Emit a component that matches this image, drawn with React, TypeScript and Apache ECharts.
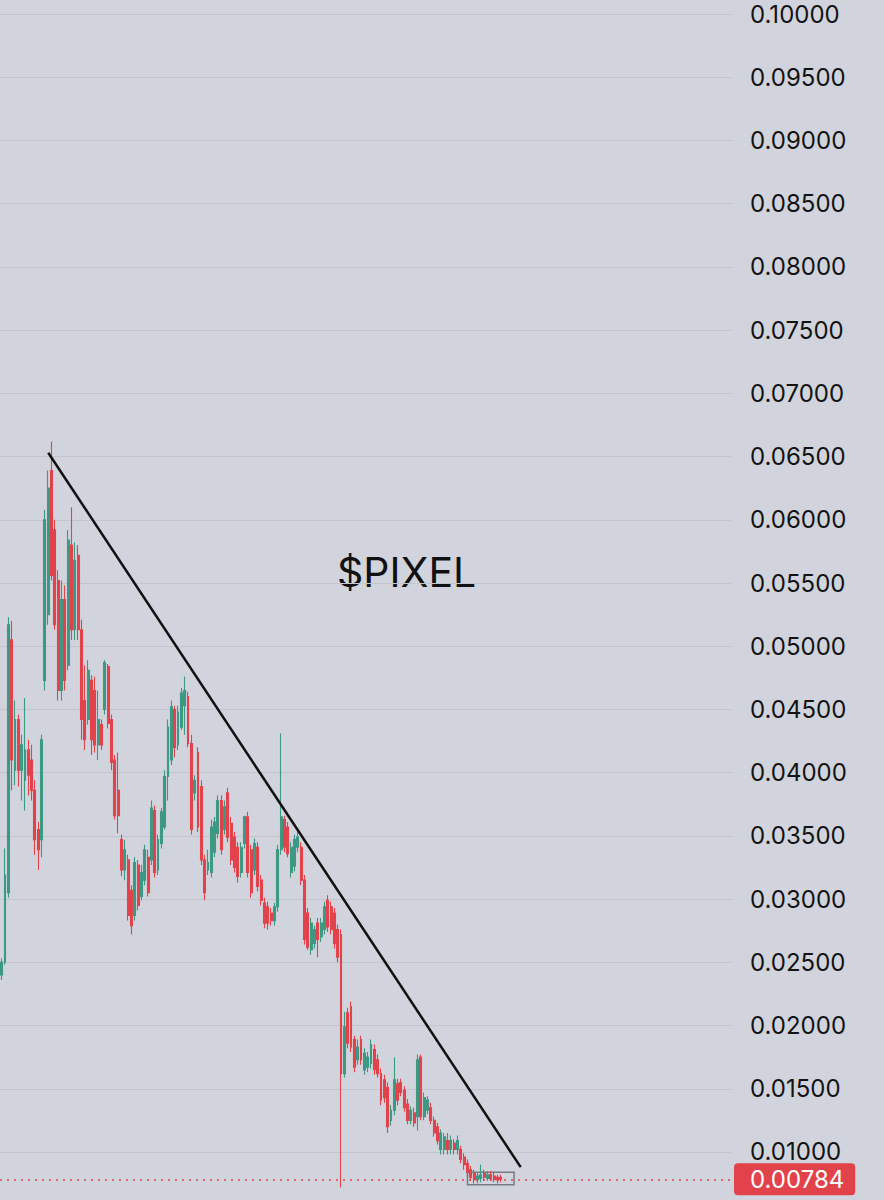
import React, { useEffect, useRef } from "react";
import * as echarts from "echarts";

// number of slots on the time axis (candles + empty space on the right)
const slotCount = 220;

// [open, close, low, high]
const candles: number[][] = [
  [0.0240, 0.0250, 0.0236, 0.0253], [0.0250, 0.0319, 0.0248, 0.0340], [0.0305, 0.0517, 0.0301, 0.0523],
  [0.0505, 0.0410, 0.0386, 0.0520], [0.0402, 0.0442, 0.0390, 0.0457], [0.0442, 0.0402, 0.0389, 0.0446],
  [0.0402, 0.0422, 0.0378, 0.0430], [0.0394, 0.0418, 0.0370, 0.0459], [0.0418, 0.0398, 0.0382, 0.0426],
  [0.0410, 0.0386, 0.0378, 0.0422], [0.0386, 0.0347, 0.0335, 0.0394], [0.0355, 0.0339, 0.0323, 0.0361],
  [0.0347, 0.0426, 0.0333, 0.0430], [0.0473, 0.0600, 0.0465, 0.0608], [0.0525, 0.0625, 0.0517, 0.0639],
  [0.0639, 0.0556, 0.0552, 0.0662], [0.0592, 0.0517, 0.0513, 0.0600], [0.0552, 0.0465, 0.0457, 0.0560],
  [0.0465, 0.0537, 0.0457, 0.0552], [0.0537, 0.0473, 0.0465, 0.0548], [0.0485, 0.0584, 0.0481, 0.0592],
  [0.0580, 0.0513, 0.0505, 0.0610], [0.0513, 0.0568, 0.0505, 0.0582], [0.0572, 0.0513, 0.0505, 0.0580],
  [0.0513, 0.0442, 0.0426, 0.0521], [0.0457, 0.0426, 0.0418, 0.0485], [0.0442, 0.0481, 0.0438, 0.0489],
  [0.0473, 0.0426, 0.0414, 0.0477], [0.0465, 0.0422, 0.0416, 0.0476], [0.0422, 0.0442, 0.0410, 0.0465],
  [0.0438, 0.0422, 0.0418, 0.0442], [0.0450, 0.0487, 0.0446, 0.0489], [0.0484, 0.0439, 0.0435, 0.0486],
  [0.0442, 0.0408, 0.0402, 0.0446], [0.0410, 0.0366, 0.0363, 0.0414], [0.0386, 0.0366, 0.0352, 0.0416],
  [0.0347, 0.0323, 0.0318, 0.0351], [0.0323, 0.0339, 0.0315, 0.0347], [0.0331, 0.0287, 0.0283, 0.0335],
  [0.0307, 0.0279, 0.0272, 0.0311], [0.0287, 0.0329, 0.0283, 0.0333], [0.0327, 0.0295, 0.0291, 0.0331],
  [0.0302, 0.0321, 0.0299, 0.0327], [0.0315, 0.0339, 0.0311, 0.0343], [0.0333, 0.0305, 0.0302, 0.0339],
  [0.0331, 0.0372, 0.0327, 0.0378], [0.0370, 0.0321, 0.0317, 0.0374], [0.0323, 0.0347, 0.0319, 0.0351],
  [0.0344, 0.0369, 0.0340, 0.0372], [0.0357, 0.0397, 0.0355, 0.0402], [0.0397, 0.0436, 0.0378, 0.0442],
  [0.0410, 0.0452, 0.0406, 0.0457], [0.0450, 0.0420, 0.0412, 0.0453], [0.0422, 0.0448, 0.0418, 0.0453],
  [0.0436, 0.0463, 0.0434, 0.0467], [0.0453, 0.0465, 0.0430, 0.0476], [0.0460, 0.0423, 0.0420, 0.0464],
  [0.0423, 0.0355, 0.0351, 0.0430], [0.0384, 0.0394, 0.0378, 0.0398], [0.0416, 0.0357, 0.0353, 0.0420],
  [0.0389, 0.0331, 0.0327, 0.0394], [0.0331, 0.0305, 0.0299, 0.0335], [0.0323, 0.0329, 0.0319, 0.0339],
  [0.0321, 0.0357, 0.0317, 0.0363], [0.0337, 0.0361, 0.0333, 0.0365], [0.0352, 0.0378, 0.0348, 0.0382],
  [0.0378, 0.0339, 0.0335, 0.0382], [0.0355, 0.0373, 0.0351, 0.0378], [0.0384, 0.0349, 0.0345, 0.0388],
  [0.0360, 0.0331, 0.0327, 0.0365], [0.0349, 0.0325, 0.0321, 0.0353], [0.0341, 0.0318, 0.0313, 0.0345],
  [0.0321, 0.0341, 0.0317, 0.0345], [0.0344, 0.0365, 0.0340, 0.0366], [0.0365, 0.0321, 0.0317, 0.0369],
  [0.0339, 0.0305, 0.0301, 0.0343], [0.0323, 0.0344, 0.0319, 0.0348], [0.0341, 0.0310, 0.0306, 0.0345],
  [0.0315, 0.0299, 0.0295, 0.0319], [0.0297, 0.0281, 0.0277, 0.0301], [0.0294, 0.0281, 0.0276, 0.0298],
  [0.0289, 0.0283, 0.0279, 0.0293], [0.0283, 0.0294, 0.0279, 0.0297], [0.0294, 0.0339, 0.0290, 0.0343],
  [0.0339, 0.0365, 0.0335, 0.0431], [0.0363, 0.0341, 0.0337, 0.0366], [0.0357, 0.0336, 0.0333, 0.0361],
  [0.0321, 0.0341, 0.0317, 0.0345], [0.0326, 0.0347, 0.0322, 0.0351], [0.0341, 0.0349, 0.0337, 0.0353],
  [0.0341, 0.0315, 0.0311, 0.0345], [0.0315, 0.0268, 0.0264, 0.0319], [0.0289, 0.0262, 0.0260, 0.0293],
  [0.0260, 0.0281, 0.0256, 0.0285], [0.0265, 0.0276, 0.0261, 0.0279], [0.0281, 0.0268, 0.0254, 0.0285],
  [0.0270, 0.0281, 0.0266, 0.0285], [0.0276, 0.0294, 0.0272, 0.0298], [0.0299, 0.0278, 0.0274, 0.0303],
  [0.0294, 0.0276, 0.0272, 0.0298], [0.0289, 0.0265, 0.0261, 0.0293], [0.0276, 0.0254, 0.0250, 0.0280],
  [0.0272, 0.0162, 0.0072, 0.0276], [0.0162, 0.0199, 0.0159, 0.0211], [0.0210, 0.0186, 0.0182, 0.0214],
  [0.0215, 0.0183, 0.0179, 0.0219], [0.0189, 0.0167, 0.0163, 0.0192], [0.0173, 0.0183, 0.0169, 0.0189],
  [0.0189, 0.0173, 0.0169, 0.0192], [0.0165, 0.0178, 0.0161, 0.0182], [0.0167, 0.0175, 0.0163, 0.0179],
  [0.0170, 0.0185, 0.0166, 0.0189], [0.0181, 0.0165, 0.0161, 0.0185], [0.0173, 0.0162, 0.0159, 0.0177],
  [0.0162, 0.0141, 0.0137, 0.0166], [0.0157, 0.0143, 0.0139, 0.0161], [0.0151, 0.0120, 0.0115, 0.0155],
  [0.0125, 0.0133, 0.0121, 0.0137], [0.0133, 0.0157, 0.0129, 0.0175], [0.0154, 0.0141, 0.0137, 0.0158],
  [0.0155, 0.0147, 0.0144, 0.0158], [0.0149, 0.0135, 0.0132, 0.0152], [0.0138, 0.0125, 0.0122, 0.0142],
  [0.0125, 0.0133, 0.0122, 0.0136], [0.0131, 0.0123, 0.0120, 0.0135], [0.0128, 0.0173, 0.0117, 0.0177],
  [0.0175, 0.0128, 0.0125, 0.0177], [0.0128, 0.0143, 0.0125, 0.0147], [0.0133, 0.0141, 0.0130, 0.0144],
  [0.0135, 0.0125, 0.0122, 0.0139], [0.0125, 0.0115, 0.0112, 0.0128], [0.0120, 0.0109, 0.0106, 0.0123],
  [0.0102, 0.0115, 0.0098, 0.0118], [0.0102, 0.0112, 0.0098, 0.0115], [0.0109, 0.0102, 0.0098, 0.0115],
  [0.0102, 0.0109, 0.0098, 0.0113], [0.0107, 0.0102, 0.0098, 0.0110], [0.0102, 0.0109, 0.0098, 0.0113],
  [0.0102, 0.0094, 0.0091, 0.0105], [0.0096, 0.0090, 0.0086, 0.0099], [0.0091, 0.0084, 0.0081, 0.0094],
  [0.0086, 0.0080, 0.0077, 0.0089], [0.0083, 0.0078, 0.0075, 0.0086], [0.0078, 0.0081, 0.0075, 0.0084],
  [0.0079, 0.0082, 0.0076, 0.0090], [0.0083, 0.0080, 0.0077, 0.0086], [0.0079, 0.0082, 0.0077, 0.0085],
  [0.0082, 0.0079, 0.0077, 0.0085], [0.0081, 0.0078, 0.0076, 0.0084], [0.0080, 0.0078, 0.0075, 0.0082],
  [0.0080, 0.00784, 0.0076, 0.0082],
];

const yMin = 0.005;
const yMax = 0.105;
const yStep = 0.005;
const labelMin = 0.01;
const labelMax = 0.1;
const lastPrice = 0.00784;
const lastPriceLabel = "0.00784";
const trendStart = [14, 0.0653];
const trendEnd = [156, 0.0088];
const boxStart = [140, 0.0084];
const boxEnd = [154, 0.0074];
const titleText = "$PIXEL";

const UP = "#3d9884";
const DOWN = "#e2434b";

export default function App() {
  const ref = useRef<HTMLDivElement>(null);
  useEffect(() => {
    if (!ref.current) return;
    const chart = echarts.init(ref.current, undefined, { renderer: "svg" });
    const slots = Array.from({ length: slotCount }, (_, i) => String(i));
    const data = slots.map((_, i) => (i < candles.length ? candles[i] : "-"));
    chart.setOption({
      animation: false,
      backgroundColor: "#d1d4dc",
      grid: {
        left: 0,
        right: 152,
        top: -49.2,
        bottom: -15.2,
        containLabel: false,
        outerBoundsMode: "none",
      },
      xAxis: {
        type: "category",
        data: slots,
        boundaryGap: true,
        axisLine: { show: false },
        axisTick: { show: false },
        axisLabel: { show: false },
        splitLine: { show: false },
      },
      yAxis: {
        type: "value",
        position: "right",
        min: yMin,
        max: yMax,
        interval: yStep,
        axisLine: { show: false },
        axisTick: { show: false },
        axisLabel: {
          margin: 18,
          color: "#131313",
          fontSize: 24,
          fontFamily: "Inter",
          formatter: (v: number) =>
            v < labelMin - 1e-9 || v > labelMax + 1e-9 ? "" : v.toFixed(5),
        },
        splitLine: { lineStyle: { color: "#c3c6cd", width: 1.2 } },
      },
      graphic: [
        {
          type: "text",
          x: 337,
          y: 572,
          style: {
            text: titleText,
            fill: "#111111",
            font: "41px Inter",
            verticalAlign: "middle",
          },
        },
      ],
      series: [
        {
          type: "candlestick",
          data,
          barWidth: 2.4,
          itemStyle: {
            color: UP,
            color0: DOWN,
            borderColor: UP,
            borderColor0: DOWN,
            borderWidth: 1.1,
          },
          markLine: {
            silent: true,
            precision: 5,
            symbol: ["none", "none"],
            data: [
              [
                {
                  coord: trendStart,
                  lineStyle: { color: "#111111", width: 2.5, type: "solid" },
                  label: { show: false },
                },
                { coord: trendEnd },
              ],
              {
                yAxis: lastPrice,
                lineStyle: { color: DOWN, width: 1.5, type: [2, 5] },
                label: {
                  show: true,
                  position: "end",
                  distance: 2,
                  formatter: lastPriceLabel,
                  color: "#ffffff",
                  fontSize: 24,
                  fontFamily: "Inter",
                  backgroundColor: DOWN,
                  borderRadius: 4,
                  padding: [4, 11, 4, 16],
                },
              },
            ],
          },
          markArea: {
            silent: true,
            itemStyle: {
              color: "rgba(0,0,0,0)",
              borderColor: "#767a84",
              borderWidth: 1.5,
            },
            data: [[{ coord: boxStart }, { coord: boxEnd }]],
          },
        },
      ],
    });
    return () => chart.dispose();
  }, []);
  return (
    <div
      ref={ref}
      style={{ position: "absolute", left: 0, top: 0, width: 884, height: 1200 }}
    />
  );
}
